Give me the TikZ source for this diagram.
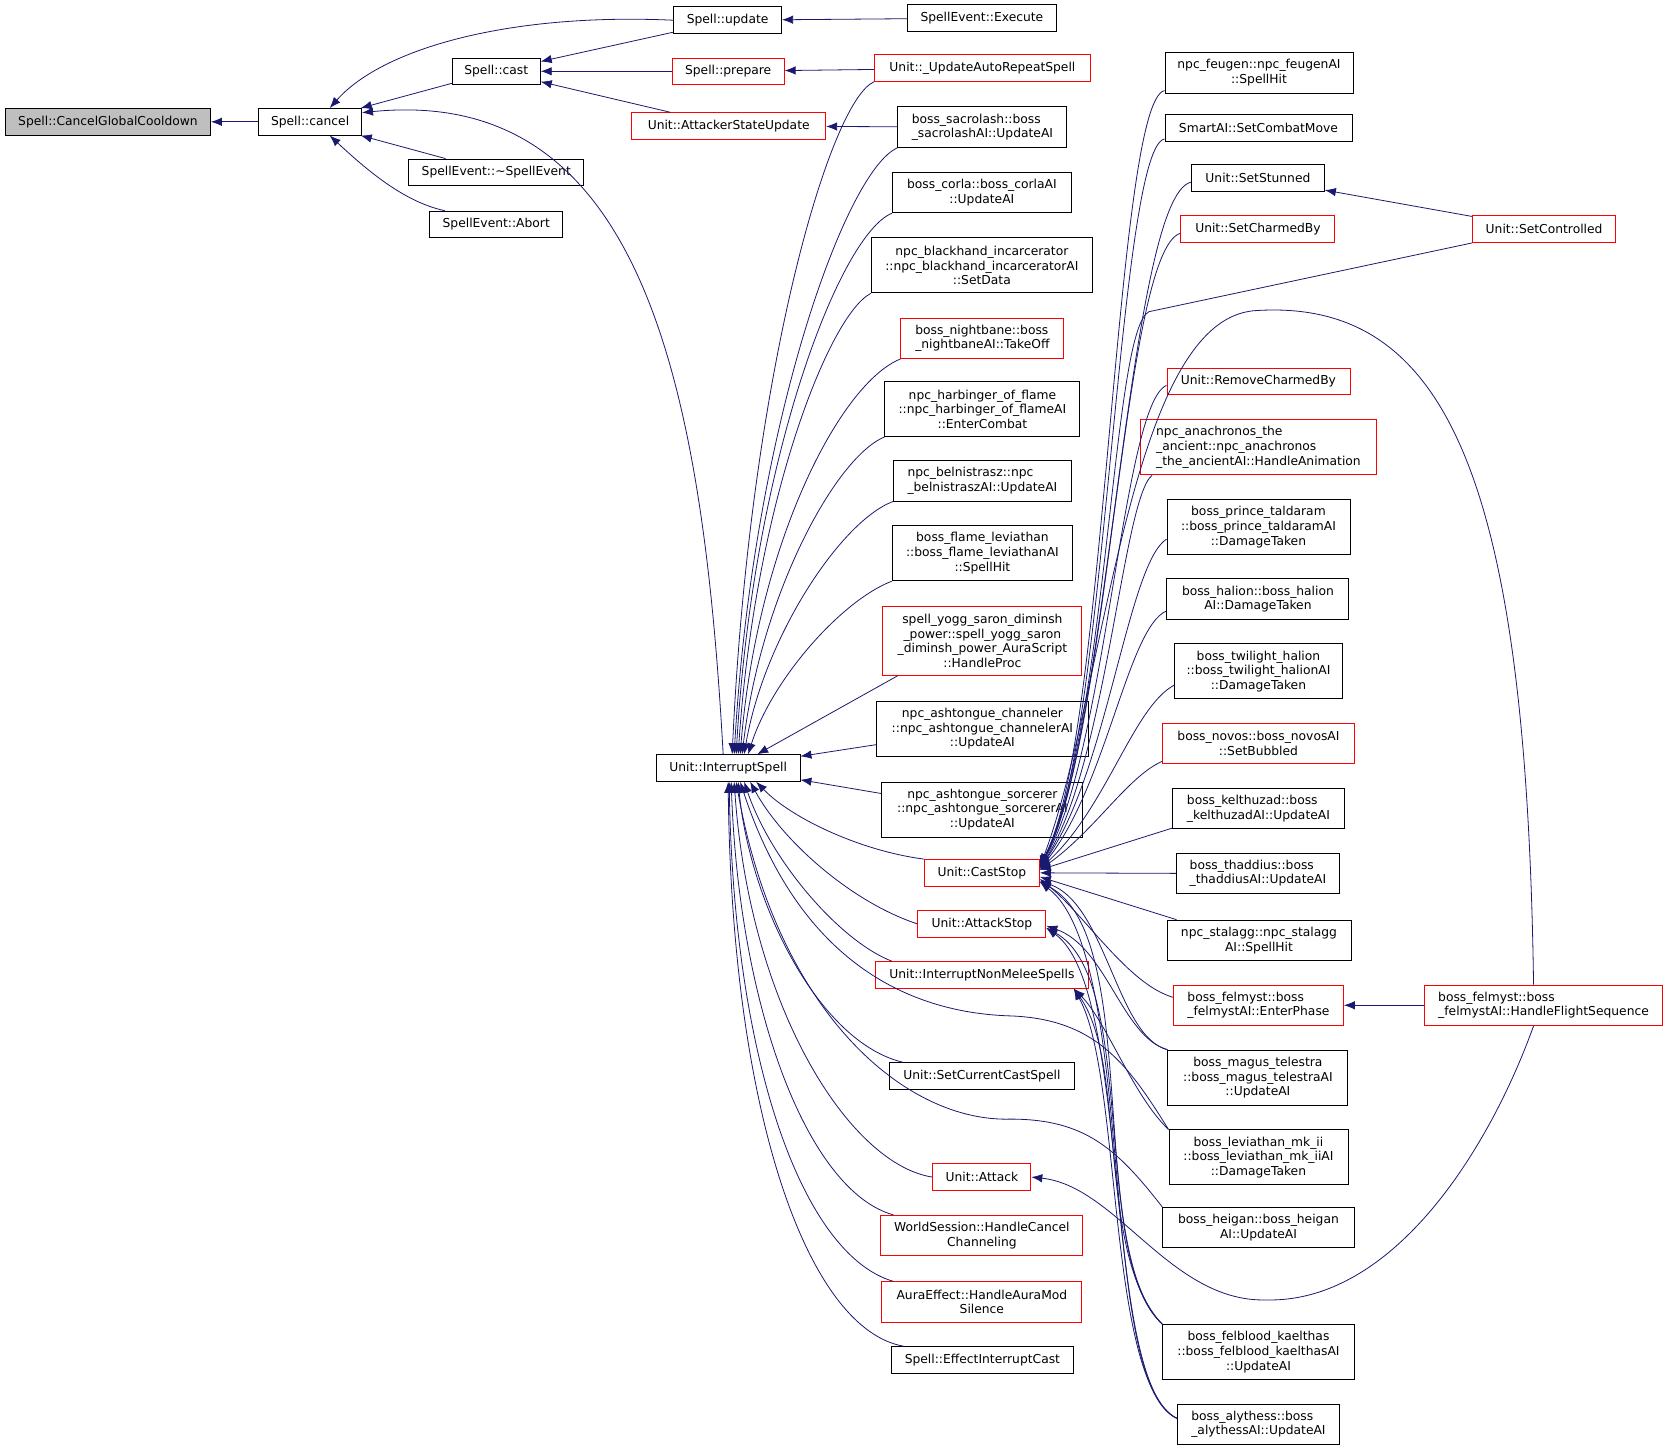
\documentclass[tikz,border=0pt]{standalone}
\usepackage{fontspec}
\usetikzlibrary{arrows.meta}
\newfontfamily\dvsans{DejaVu Sans}
\definecolor{midblue}{HTML}{191970}
\definecolor{gcdgrey}{HTML}{BFBFBF}
\definecolor{truncred}{HTML}{FF0000}

\tikzset{
  fn/.style={draw=black, line width=0.9pt, rectangle, inner sep=2pt, align=center,
    minimum height=26.6pt, font=\dvsans\fontsize{12.3pt}{14.6pt}\selectfont},
  trunc/.style={fn, draw=truncred},
  flush/.style={align=left},
  two/.style={minimum height=40.5pt},
  three/.style={minimum height=55pt},
  four/.style={minimum height=69pt},
  call/.style={draw=midblue, line width=0.8pt, -{Latex[length=11pt,width=8.5pt]}},
}

\begin{document}
\begin{tikzpicture}[x=1.0638pt, y=-1.0638pt]
	\path[fill=white, use as bounding box] (0,0) rectangle (1568,1364);

	% left part
	\node [fn, fill=gcdgrey, minimum width=205pt] (gcd) at (101.5,114.5) {Spell::CancelGlobalCooldown};
	\node [fn, minimum width=103pt] (cancel) at (291.5,114.5) {Spell::cancel};
	\node [fn, minimum width=88pt] (cast) at (466.5,67) {Spell::cast};
	\node [fn, minimum width=175pt] (dtor) at (466.5,162) {SpellEvent::\textasciitilde SpellEvent};
	\node [fn, minimum width=133pt] (abort) at (466.5,211) {SpellEvent::Abort};
	\node [fn, minimum width=108pt] (update) at (684,19) {Spell::update};
	\node [trunc, minimum width=112pt] (prepare) at (684.5,67) {Spell::prepare};
	\node [trunc, minimum width=194pt] (attacker) at (685,118.5) {Unit::AttackerStateUpdate};
	\node [fn, minimum width=143.6pt] (interrupt) at (684.5,722) {Unit::InterruptSpell};

	% third column
	\node [fn, minimum width=149pt] (execute) at (923,17) {SpellEvent::Execute};
	\node [trunc, minimum width=216pt] (autorepeat) at (923.5,64) {Unit::\_UpdateAutoRepeatSpell};
	\node [fn, two, flush, minimum width=169pt] (sacrolash) at (923.5,119.5) {boss\_sacrolash::boss\\\_sacrolashAI::UpdateAI};
	\node [fn, two, minimum width=179pt] (corla) at (923,181) {boss\_corla::boss\_corlaAI\\::UpdateAI};
	\node [fn, three, minimum width=221pt] (blackhand) at (923,249.5) {npc\_blackhand\_incarcerator\\::npc\_blackhand\_incarceratorAI\\::SetData};
	\node [trunc, two, flush, minimum width=163pt] (nightbane) at (923.5,318) {boss\_nightbane::boss\\\_nightbaneAI::TakeOff};
	\node [fn, three, minimum width=195pt] (harbinger) at (923.5,384.5) {npc\_harbinger\_of\_flame\\::npc\_harbinger\_of\_flameAI\\::EnterCombat};
	\node [fn, two, flush, minimum width=178pt] (belnistrasz) at (923.5,452) {npc\_belnistrasz::npc\\\_belnistraszAI::UpdateAI};
	\node [fn, three, minimum width=180pt] (flamelev) at (923.5,520) {boss\_flame\_leviathan\\::boss\_flame\_leviathanAI\\::SpellHit};
	\node [trunc, four, minimum width=199pt] (yogg) at (923.5,602.5) {spell\_yogg\_saron\_diminsh\\\_power::spell\_yogg\_saron\\\_diminsh\_power\_AuraScript\\::HandleProc};
	\node [fn, three, minimum width=212pt] (channeler) at (923.5,685) {npc\_ashtongue\_channeler\\::npc\_ashtongue\_channelerAI\\::UpdateAI};
	\node [fn, three, minimum width=201pt] (sorcerer) at (923.5,761) {npc\_ashtongue\_sorcerer\\::npc\_ashtongue\_sorcererAI\\::UpdateAI};
	\node [trunc, minimum width=115pt] (caststop) at (923,820.5) {Unit::CastStop};
	\node [trunc, minimum width=128pt] (attackstop) at (923,868.5) {Unit::AttackStop};
	\node [trunc, minimum width=213pt] (nonmelee) at (923,916.5) {Unit::InterruptNonMeleeSpells};
	\node [fn, minimum width=185pt] (setcurrent) at (923,1011.5) {Unit::SetCurrentCastSpell};
	\node [trunc, minimum width=98pt] (attack) at (923,1106.5) {Unit::Attack};
	\node [trunc, two, minimum width=202pt] (worldsession) at (923,1161.5) {WorldSession::HandleCancel\\Channeling};
	\node [trunc, two, minimum width=200pt] (auraeffect) at (923,1224) {AuraEffect::HandleAuraMod\\Silence};
	\node [fn, minimum width=182pt] (effectint) at (923.5,1278.5) {Spell::EffectInterruptCast};

	% fourth column
	\node [fn, two, minimum width=188pt] (feugen) at (1183.5,68.5) {npc\_feugen::npc\_feugenAI\\::SpellHit};
	\node [fn, minimum width=187pt] (smartai) at (1183,120.5) {SmartAI::SetCombatMove};
	\node [fn, minimum width=133pt] (stunned) at (1182.5,167.5) {Unit::SetStunned};
	\node [trunc, minimum width=154pt] (charmed) at (1182.5,215.5) {Unit::SetCharmedBy};
	\node [trunc, minimum width=183pt] (removecharmed) at (1183,358.5) {Unit::RemoveCharmedBy};
	\node [trunc, three, flush, minimum width=236pt] (anachronos) at (1183,420.5) {npc\_anachronos\_the\\\_ancient::npc\_anachronos\\\_the\_ancientAI::HandleAnimation};
	\node [fn, three, minimum width=183pt] (taldaram) at (1183,495.5) {boss\_prince\_taldaram\\::boss\_prince\_taldaramAI\\::DamageTaken};
	\node [fn, two, minimum width=182pt] (halion) at (1182.5,563) {boss\_halion::boss\_halion\\AI::DamageTaken};
	\node [fn, three, minimum width=168pt] (twilight) at (1183,631) {boss\_twilight\_halion\\::boss\_twilight\_halionAI\\::DamageTaken};
	\node [trunc, two, minimum width=191.5pt] (novos) at (1183,699) {boss\_novos::boss\_novosAI\\::SetBubbled};
	\node [fn, two, flush, minimum width=172pt] (kelthuzad) at (1183,760) {boss\_kelthuzad::boss\\\_kelthuzadAI::UpdateAI};
	\node [fn, two, flush, minimum width=163pt] (thaddius) at (1182.5,821) {boss\_thaddius::boss\\\_thaddiusAI::UpdateAI};
	\node [fn, two, minimum width=184pt] (stalagg) at (1183.5,884) {npc\_stalagg::npc\_stalagg\\AI::SpellHit};
	\node [trunc, two, flush, minimum width=170pt] (enterphase) at (1183,945) {boss\_felmyst::boss\\\_felmystAI::EnterPhase};
	\node [fn, three, minimum width=180pt] (magus) at (1182.5,1013) {boss\_magus\_telestra\\::boss\_magus\_telestraAI\\::UpdateAI};
	\node [fn, three, minimum width=179pt] (mkii) at (1183,1088) {boss\_leviathan\_mk\_ii\\::boss\_leviathan\_mk\_iiAI\\::DamageTaken};
	\node [fn, two, minimum width=191.5pt] (heigan) at (1183,1154) {boss\_heigan::boss\_heigan\\AI::UpdateAI};
	\node [fn, three, minimum width=191.5pt] (felblood) at (1183,1271) {boss\_felblood\_kaelthas\\::boss\_felblood\_kaelthasAI\\::UpdateAI};
	\node [fn, two, flush, minimum width=162pt] (alythess) at (1183,1339) {boss\_alythess::boss\\\_alythessAI::UpdateAI};

	% fifth column
	\node [trunc, minimum width=143.6pt] (controlled) at (1451.5,215.5) {Unit::SetControlled};
	\node [trunc, two, flush, minimum width=238pt] (flight) at (1451,945) {boss\_felmyst::boss\\\_felmystAI::HandleFlightSequence};

	% calls into the left part
	\draw [call] (cancel) -- (gcd);
	\draw [call] (cast) -- (cancel);
	\draw [call] (update.west) .. controls (480,12) and (360,45) .. (cancel.35);
	\draw [call] (dtor) -- (cancel);
	\draw [call] (abort.165) .. controls (380,190) and (345,160) .. (cancel.-35);
	\draw [call] ([xshift=-5pt]interrupt.north) .. controls (660,350) and (600,80) .. (cancel.10);
	\draw [call] (update) -- (cast);
	\draw [call] (prepare) -- (cast);
	\draw [call] (attacker) -- (cast);
	\draw [call] (execute) -- (update);
	\draw [call] (autorepeat) -- (prepare);
	\draw [call] (sacrolash) -- (attacker);

	% calls into Unit::InterruptSpell
	\draw [call] (autorepeat.south west) .. controls (780,95) and (705,350) .. ([xshift=4pt]interrupt.north);
	\draw [call] (sacrolash.south west) .. controls (795,160) and (708,400) .. ([xshift=6pt]interrupt.north);
	\draw [call] (corla.south west) .. controls (790,220) and (708,430) .. ([xshift=8pt]interrupt.north);
	\draw [call] (blackhand.south west) .. controls (780,295) and (710,470) .. ([xshift=10pt]interrupt.north);
	\draw [call] (nightbane.south west) .. controls (790,360) and (712,510) .. ([xshift=12pt]interrupt.north);
	\draw [call] (harbinger.south west) .. controls (785,430) and (715,560) .. ([xshift=14pt]interrupt.north);
	\draw [call] (belnistrasz.south west) .. controls (790,490) and (718,600) .. ([xshift=16pt]interrupt.north);
	\draw [call] (flamelev.south west) .. controls (790,565) and (725,640) .. ([xshift=20pt]interrupt.north);
	\draw [call] ([xshift=15pt]yogg.south west) -- ([xshift=29pt]interrupt.north);
	\draw [call] ([yshift=-16pt]channeler.west) -- ([yshift=-2pt]interrupt.north east);
	\draw [call] ([yshift=16pt]sorcerer.west) -- ([yshift=2pt]interrupt.south east);
	\draw [call] (caststop.north west) .. controls (810,800) and (745,770) .. ([xshift=28pt]interrupt.south);
	\draw [call] (attackstop.west) .. controls (800,848) and (735,790) .. ([xshift=22pt]interrupt.south);
	\draw [call] ([xshift=17pt]nonmelee.north west) .. controls (790,885) and (725,810) .. ([xshift=16pt]interrupt.south);
	\draw [call] ([xshift=14pt]setcurrent.north west) .. controls (770,980) and (705,850) .. ([xshift=10pt]interrupt.south);
	\draw [call] (attack.west) .. controls (800,1095) and (705,950) .. ([xshift=6pt]interrupt.south);
	\draw [call] ([xshift=13pt]worldsession.north west) .. controls (760,1120) and (695,950) .. ([xshift=3pt]interrupt.south);
	\draw [call] ([xshift=12pt]auraeffect.north west) .. controls (755,1180) and (690,1000) .. ([xshift=1pt]interrupt.south);
	\draw [call] ([xshift=13pt]effectint.north west) .. controls (760,1250) and (688,1050) .. (interrupt.south);
	\draw [call] (mkii.north west) .. controls (1060,1000) and (1030,958) .. (950,955) .. controls (850,952) and (750,900) .. ([xshift=12pt]interrupt.south);
	\draw [call] (heigan.north west) .. controls (1050,1080) and (1020,1052) .. (950,1052) .. controls (850,1055) and (730,950) .. ([xshift=8pt]interrupt.south);

	% calls into Unit::CastStop
	\draw [call] ([yshift=3pt]feugen.south west) .. controls (1048,95) and (1040,700) .. ([yshift=8pt]caststop.east);
	\draw [call] ([yshift=3pt]smartai.south west) .. controls (1050,140) and (1040,710) .. ([yshift=8pt]caststop.east);
	\draw [call] ([yshift=-4pt]stunned.west) .. controls (1060,185) and (1042,700) .. ([yshift=7pt]caststop.east);
	\draw [call] ([yshift=-4pt]charmed.west) .. controls (1055,235) and (1042,700) .. ([yshift=7pt]caststop.east);
	\draw [call] ([yshift=-4pt]removecharmed.west) .. controls (1055,380) and (1040,710) .. ([yshift=6pt]caststop.east);
	\draw [call] ([xshift=12pt]anachronos.south west) .. controls (1055,470) and (1040,720) .. ([yshift=5pt]caststop.east);
	\draw [call] ([yshift=-12pt]taldaram.west) .. controls (1060,530) and (1040,730) .. ([yshift=5pt]caststop.east);
	\draw [call] ([yshift=-12pt]halion.west) .. controls (1060,590) and (1040,740) .. ([yshift=4pt]caststop.east);
	\draw [call] ([yshift=-14pt]twilight.west) .. controls (1065,665) and (1040,760) .. ([yshift=4pt]caststop.east);
	\draw [call] ([yshift=3pt]novos.south west) .. controls (1060,730) and (1030,780) .. ([yshift=3pt]caststop.east);
	\draw [call] ([yshift=1pt]kelthuzad.south west) -- ([yshift=3pt]caststop.east);
	\draw [call] (thaddius.west) -- (caststop.east);
	\draw [call] ([xshift=10pt]stalagg.north west) -- ([yshift=-4pt]caststop.east);
	\draw [call] ([yshift=8pt]enterphase.west) .. controls (1060,925) and (1020,860) .. ([yshift=-6pt]caststop.east);
	\draw [call] (magus.north west) .. controls (1050,975) and (1040,850) .. ([yshift=-8pt]caststop.east);
	\draw [call] (felblood.north west) .. controls (1020,1180) and (1075,880) .. ([yshift=-9pt]caststop.east);
	\draw [call] ([yshift=6pt]alythess.west) .. controls (1030,1300) and (1070,900) .. ([yshift=-9pt]caststop.east);
	\draw [call] (controlled.south west) -- (1080,293) .. controls (1045,310) and (1042,680) .. ([yshift=5pt]caststop.east);
	\draw [call] ([xshift=-10pt]flight.north) .. controls (1435,450) and (1360,280) .. (1180,292) .. controls (1060,300) and (1040,650) .. ([yshift=6pt]caststop.east);

	% calls into the other Unit functions
	\draw [call] (magus.north west) .. controls (1055,975) and (1040,890) .. ([yshift=-2pt]attackstop.east);
	\draw [call] (felblood.north west) .. controls (1025,1180) and (1070,920) .. ([yshift=-4pt]attackstop.east);
	\draw [call] ([yshift=6pt]alythess.west) .. controls (1035,1300) and (1065,930) .. ([yshift=-4pt]attackstop.east);
	\draw [call] (mkii.north west) .. controls (1065,1030) and (1040,960) .. ([xshift=-15pt]nonmelee.south east);
	\draw [call] (felblood.north west) .. controls (1030,1180) and (1060,1000) .. ([xshift=-15pt]nonmelee.south east);
	\draw [call] ([yshift=6pt]alythess.west) .. controls (1040,1300) and (1055,1010) .. ([xshift=-15pt]nonmelee.south east);
	\draw [call] ([xshift=-10pt]flight.south) .. controls (1400,1080) and (1310,1225) .. (1190,1222) .. controls (1100,1224) and (1050,1115) .. (attack.east);
	\draw [call] (controlled) -- (stunned);
	\draw [call] (flight) -- (enterphase);

\end{tikzpicture}
\end{document}
